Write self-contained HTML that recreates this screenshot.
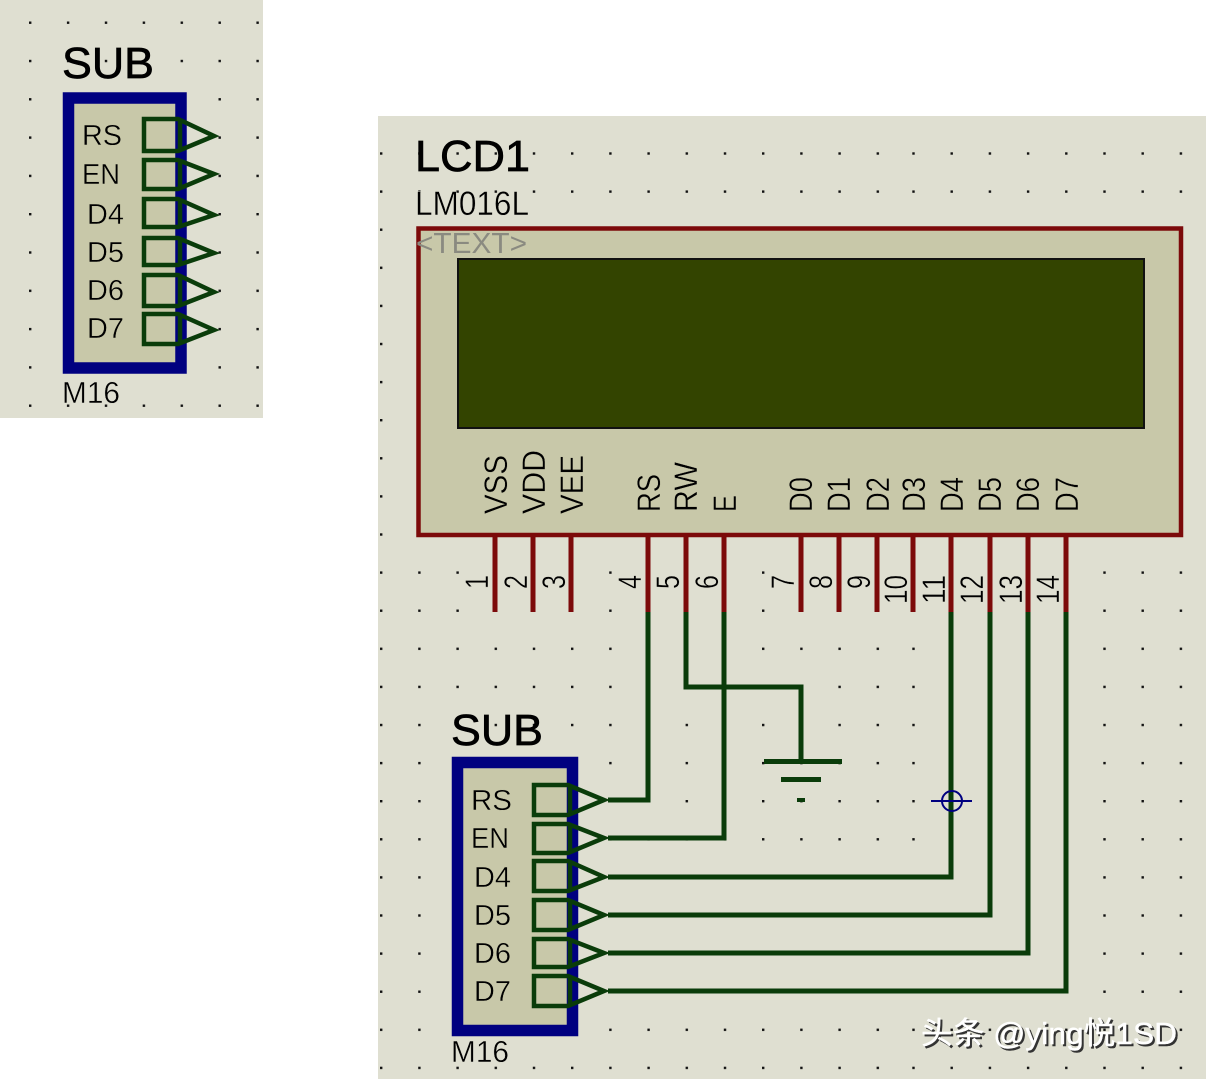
<!DOCTYPE html>
<html><head><meta charset="utf-8"><style>
html,body{margin:0;padding:0;background:#fff}
svg{display:block}
text{font-family:"Liberation Sans","Noto Sans CJK SC",sans-serif;fill:#000}
.t{stroke:#c8c8a9;stroke-width:.4}
.u{stroke:#dfdfd1;stroke-width:.4}
.h{stroke:#000;stroke-width:.7}
.w{fill:none;stroke:#0a3c0a;stroke-width:4.5;stroke-linejoin:miter}
.r{stroke:#7c0a0a;stroke-width:5}
.g{stroke:#0a3c0a;stroke-width:5}
</style></head><body>
<svg width="1206" height="1079" viewBox="0 0 1206 1079" xmlns="http://www.w3.org/2000/svg">
<defs>
<pattern id="a" x="29" y="21.5" width="37.9" height="38.3" patternUnits="userSpaceOnUse"><rect width="2.4" height="2.4" fill="#111"/></pattern>
<pattern id="b" x="380" y="152.3" width="38.2" height="38.1" patternUnits="userSpaceOnUse"><rect width="2.4" height="2.4" fill="#111"/></pattern>
<pattern id="c" x="377.5" y="152.3" width="38.2" height="38.1" patternUnits="userSpaceOnUse"><rect width="2.4" height="2.4" fill="#111"/></pattern>
</defs>
<rect x="0" y="0" width="1206" height="1079" fill="#fff"/>
<rect x="0" y="0" width="263" height="418" fill="#dfdfd1"/>
<rect x="378" y="116" width="828" height="963" fill="#dfdfd1"/>
<rect x="0" y="0" width="263" height="418" fill="url(#a)"/>
<rect x="378" y="120" width="517" height="959" fill="url(#b)"/>
<rect x="895" y="120" width="311" height="959" fill="url(#c)"/>

<!-- LEFT SUB -->
<text class="h" x="62" y="78" font-size="44" textLength="92" lengthAdjust="spacingAndGlyphs">SUB</text>
<rect x="68.500" y="98" width="112.500" height="270" fill="#c8c8a9" stroke="#000080" stroke-width="11.500"/>
<text class="t" x="82" y="145" font-size="29" textLength="40" lengthAdjust="spacingAndGlyphs">RS</text>
<text class="t" x="82" y="184" font-size="29" textLength="38" lengthAdjust="spacingAndGlyphs">EN</text>
<text class="t" x="87" y="224" font-size="29" textLength="37" lengthAdjust="spacingAndGlyphs">D4</text>
<text class="t" x="87" y="262" font-size="29" textLength="37" lengthAdjust="spacingAndGlyphs">D5</text>
<text class="t" x="87" y="300" font-size="29" textLength="37" lengthAdjust="spacingAndGlyphs">D6</text>
<text class="t" x="87" y="338" font-size="29" textLength="37" lengthAdjust="spacingAndGlyphs">D7</text>
<path class="w" d="M144 119H178L214 136L178 151H144ZM180 119V151"/>
<path class="w" d="M144 160H178L214 174L178 189H144ZM180 160V189"/>
<path class="w" d="M144 199H178L214 215L178 227H144ZM180 199V227"/>
<path class="w" d="M144 238H178L214 253L178 265H144ZM180 238V265"/>
<path class="w" d="M144 275H178L214 292L178 306H144ZM180 275V306"/>
<path class="w" d="M144 314H178L214 330L178 344H144ZM180 314V344"/>
<text class="u" x="62" y="403" font-size="31" textLength="58" lengthAdjust="spacingAndGlyphs">M16</text>

<!-- LCD -->
<text class="h" x="415" y="171" font-size="44" textLength="115" lengthAdjust="spacingAndGlyphs">LCD1</text>
<text class="u" x="415" y="215" font-size="34" textLength="114" lengthAdjust="spacingAndGlyphs">LM016L</text>
<rect x="418.500" y="228.500" width="762.500" height="306.500" fill="#c8c8a9" stroke="#7c0a0a" stroke-width="4.500"/>
<text x="416" y="253" font-size="29" textLength="111" lengthAdjust="spacingAndGlyphs" style="fill:#8a8a80">&lt;TEXT&gt;</text>
<rect x="458" y="259" width="686" height="169" fill="#334400" stroke="#111" stroke-width="2"/>

<g font-size="32">
<text class="t" transform="translate(507,514) rotate(-90)" textLength="59" lengthAdjust="spacingAndGlyphs">VSS</text>
<text class="t" transform="translate(545,514) rotate(-90)" textLength="64" lengthAdjust="spacingAndGlyphs">VDD</text>
<text class="t" transform="translate(583,514) rotate(-90)" textLength="59" lengthAdjust="spacingAndGlyphs">VEE</text>
<text class="t" transform="translate(660,512) rotate(-90)" textLength="38" lengthAdjust="spacingAndGlyphs">RS</text>
<text class="t" transform="translate(697,512) rotate(-90)" textLength="50" lengthAdjust="spacingAndGlyphs">RW</text>
<text class="t" transform="translate(736,512) rotate(-90)" textLength="17" lengthAdjust="spacingAndGlyphs">E</text>
<text class="t" transform="translate(812,512) rotate(-90)" textLength="35" lengthAdjust="spacingAndGlyphs">D0</text>
<text class="t" transform="translate(850,512) rotate(-90)" textLength="35" lengthAdjust="spacingAndGlyphs">D1</text>
<text class="t" transform="translate(889,512) rotate(-90)" textLength="35" lengthAdjust="spacingAndGlyphs">D2</text>
<text class="t" transform="translate(925,512) rotate(-90)" textLength="35" lengthAdjust="spacingAndGlyphs">D3</text>
<text class="t" transform="translate(963,512) rotate(-90)" textLength="35" lengthAdjust="spacingAndGlyphs">D4</text>
<text class="t" transform="translate(1001,512) rotate(-90)" textLength="35" lengthAdjust="spacingAndGlyphs">D5</text>
<text class="t" transform="translate(1039,512) rotate(-90)" textLength="35" lengthAdjust="spacingAndGlyphs">D6</text>
<text class="t" transform="translate(1078,512) rotate(-90)" textLength="35" lengthAdjust="spacingAndGlyphs">D7</text>
<text class="u" transform="translate(488,589) rotate(-90)" textLength="14" lengthAdjust="spacingAndGlyphs">1</text>
<text class="u" transform="translate(527,589) rotate(-90)" textLength="14" lengthAdjust="spacingAndGlyphs">2</text>
<text class="u" transform="translate(565,589) rotate(-90)" textLength="14" lengthAdjust="spacingAndGlyphs">3</text>
<text class="u" transform="translate(641,589) rotate(-90)" textLength="14" lengthAdjust="spacingAndGlyphs">4</text>
<text class="u" transform="translate(679,589) rotate(-90)" textLength="14" lengthAdjust="spacingAndGlyphs">5</text>
<text class="u" transform="translate(718,589) rotate(-90)" textLength="14" lengthAdjust="spacingAndGlyphs">6</text>
<text class="u" transform="translate(794,589) rotate(-90)" textLength="14" lengthAdjust="spacingAndGlyphs">7</text>
<text class="u" transform="translate(832,589) rotate(-90)" textLength="14" lengthAdjust="spacingAndGlyphs">8</text>
<text class="u" transform="translate(870,589) rotate(-90)" textLength="14" lengthAdjust="spacingAndGlyphs">9</text>
<text class="u" transform="translate(907,604) rotate(-90)" textLength="29" lengthAdjust="spacingAndGlyphs">10</text>
<text class="u" transform="translate(945,604) rotate(-90)" textLength="29" lengthAdjust="spacingAndGlyphs">11</text>
<text class="u" transform="translate(983,604) rotate(-90)" textLength="29" lengthAdjust="spacingAndGlyphs">12</text>
<text class="u" transform="translate(1022,604) rotate(-90)" textLength="29" lengthAdjust="spacingAndGlyphs">13</text>
<text class="u" transform="translate(1059,604) rotate(-90)" textLength="29" lengthAdjust="spacingAndGlyphs">14</text>
</g>

<!-- pins red -->
<path class="r" fill="none" d="M495 537V612M533 537V612M571 537V612M648 537V612M686 537V612M724 537V612M801 537V612M839 537V612M877 537V612M913 537V612M951 537V612M990 537V612M1028 537V612M1066 537V612"/>

<!-- wires -->
<path class="g" fill="none" d="M648 612V800H608M724 612V838H608M951 612V877H608M990 612V915H608M1028 612V953H608M1066 612V991H608M686 612V687H801V762"/>
<!-- ground -->
<rect x="764" y="759" width="78" height="5" fill="#0a3c0a"/>
<rect x="781" y="777" width="40" height="5" fill="#0a3c0a"/>
<rect x="797" y="798" width="8" height="4" fill="#0a3c0a"/>
<!-- cursor -->
<circle cx="952" cy="801" r="10" fill="none" stroke="#000080" stroke-width="2"/>
<path d="M931 801H972" stroke="#000080" stroke-width="2" fill="none"/>

<!-- BOTTOM SUB -->
<text class="h" x="451" y="745" font-size="44" textLength="92" lengthAdjust="spacingAndGlyphs">SUB</text>
<rect x="457.500" y="762.500" width="115" height="268" fill="#c8c8a9" stroke="#000080" stroke-width="11.500"/>
<text class="t" x="471" y="810" font-size="29" textLength="41" lengthAdjust="spacingAndGlyphs">RS</text>
<text class="t" x="471" y="848" font-size="29" textLength="38" lengthAdjust="spacingAndGlyphs">EN</text>
<text class="t" x="474" y="887" font-size="29" textLength="37" lengthAdjust="spacingAndGlyphs">D4</text>
<text class="t" x="474" y="925" font-size="29" textLength="37" lengthAdjust="spacingAndGlyphs">D5</text>
<text class="t" x="474" y="963" font-size="29" textLength="37" lengthAdjust="spacingAndGlyphs">D6</text>
<text class="t" x="474" y="1001" font-size="29" textLength="37" lengthAdjust="spacingAndGlyphs">D7</text>
<path class="w" d="M534 785H568L604 800L568 815H534ZM570 785V815"/>
<path class="w" d="M534 824H568L604 838L568 853H534ZM570 824V853"/>
<path class="w" d="M534 861H568L604 877L568 891H534ZM570 861V891"/>
<path class="w" d="M534 900H568L604 915L568 930H534ZM570 900V930"/>
<path class="w" d="M534 939H568L604 953L568 967H534ZM570 939V967"/>
<path class="w" d="M534 976H568L604 991L568 1006H534ZM570 976V1006"/>
<text class="u" x="451" y="1062" font-size="31" textLength="58" lengthAdjust="spacingAndGlyphs">M16</text>

<!-- watermark -->
<text x="923" y="1046" font-size="31" textLength="256" lengthAdjust="spacingAndGlyphs" style="fill:#333;stroke:#333;stroke-width:.4">头条 @ying悦1SD</text>
<text x="921" y="1044" font-size="31" textLength="256" lengthAdjust="spacingAndGlyphs" style="fill:#fff;stroke:#fff;stroke-width:.4">头条 @ying悦1SD</text>
</svg>
</body></html>
